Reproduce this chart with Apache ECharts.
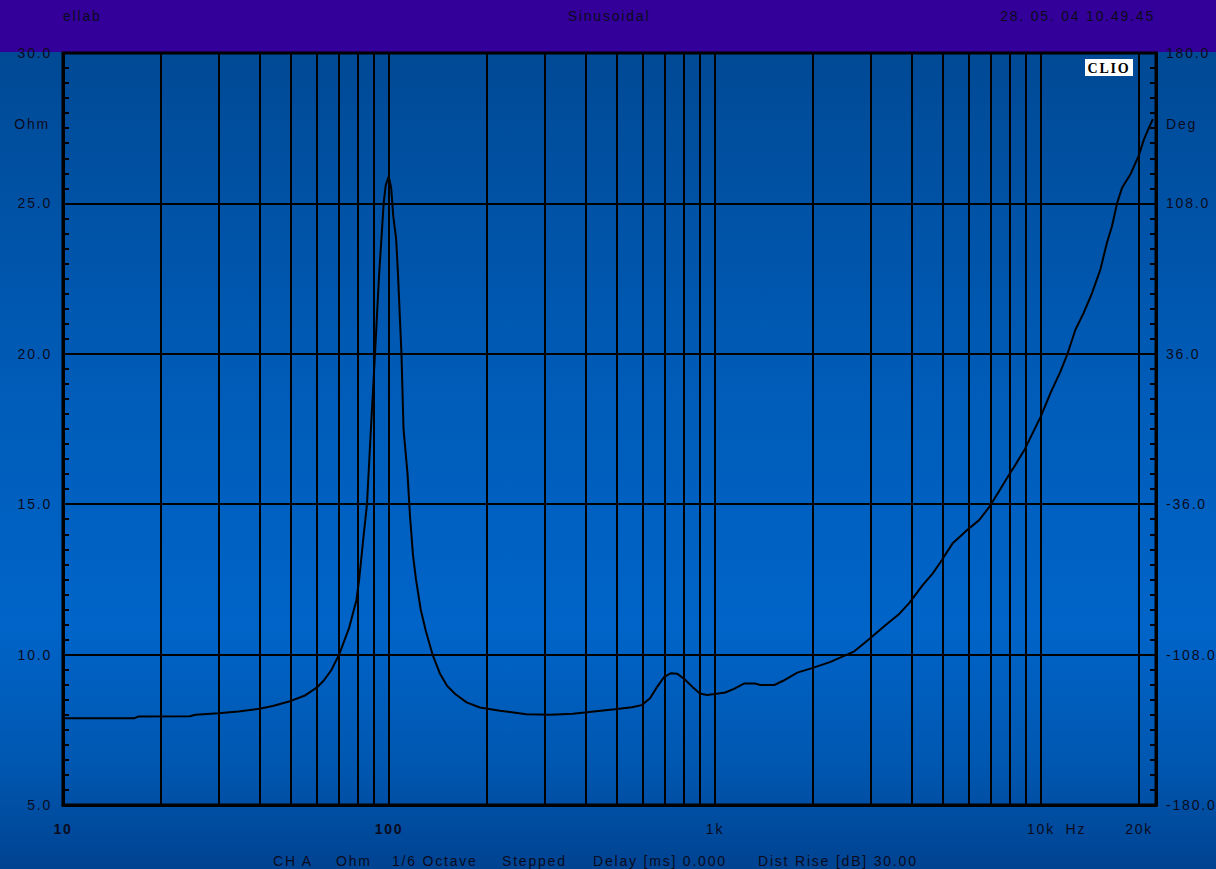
<!DOCTYPE html>
<html>
<head>
<meta charset="utf-8">
<script src="https://cdn.jsdelivr.net/npm/echarts@6/dist/echarts.min.js"></script>
<style>
  html, body { margin: 0; padding: 0; background: #0055aa; }
  #chart { width: 1216px; height: 869px; letter-spacing: 1.8px; }
</style>
</head>
<body>
<div id="chart"></div>
<script>
// Impedance sweep, frequency (Hz) and modulus (Ohm)
const freqHz = [
  10, 16.5, 17, 24.5, 25.5, 30, 34.5, 40, 44, 50, 55, 60, 63, 66.5,
  70.3, 75.5, 79.4, 81.0, 83.3, 85.6, 88.0, 90.6, 93.1, 96.3, 97.7, 99.8,
  101.6, 103, 105.2, 106.6, 108.1, 109.2, 110.8, 114, 116, 118.5, 121, 125.1,
  129.6, 136, 143.4, 150.5, 159.6, 173, 190, 219, 264, 312, 367, 418, 493,
  556, 596, 632, 663, 696, 731, 767, 805, 856, 899, 944, 1000, 1075, 1144,
  1231, 1327, 1377, 1520, 1618, 1789, 1984, 2252, 2675, 2961, 3353, 3680,
  3940, 4330, 4650, 4920, 5350, 5960, 6460, 6940, 7500, 7910, 8270, 8920,
  9980, 10690, 11470, 12030, 12750, 13520, 14340, 15210, 15930, 16510,
  17110, 17730, 18810, 19930, 20690, 21440, 22040
];
const impedanceOhm = [
  7.88, 7.88, 7.94, 7.95, 8.0, 8.05, 8.11, 8.2, 8.29, 8.46, 8.63, 8.9, 9.13, 9.48,
  10.0, 10.9, 11.8, 12.5, 13.8, 15.0, 17.5, 20.0, 22.5, 25.0, 25.6, 25.9,
  25.5, 24.6, 23.8, 22.6, 21.1, 20.0, 17.5, 16.0, 14.6, 13.3, 12.5, 11.5,
  10.8, 10.0, 9.36, 8.97, 8.69, 8.41, 8.24, 8.13, 8.02, 8.0, 8.03, 8.1, 8.18,
  8.25, 8.32, 8.55, 8.91, 9.24, 9.38, 9.36, 9.19, 8.91, 8.71, 8.66, 8.69, 8.74, 8.86,
  9.04, 9.04, 8.99, 8.99, 9.13, 9.4, 9.55, 9.75, 10.11, 10.5, 11.0, 11.36,
  11.71, 12.3, 12.69, 13.08, 13.69, 14.16, 14.47, 14.91, 15.5, 15.91, 16.24, 16.83,
  17.91, 18.69, 19.41, 19.97, 20.8, 21.36, 22.02, 22.8, 23.69, 24.24,
  25.0, 25.52, 25.97, 26.58, 27.13, 27.52, 27.8
];

// Axis ranges and tick values
const freqMin = 10;
const freqMax = 22530;
const ohmRange = [5, 30];
const ohmStep = 5;
const degRange = [-180, 180];
const degStep = 72;
const gridFreqs = [
  10, 20, 30, 40, 50, 60, 70, 80, 90,
  100, 200, 300, 400, 500, 600, 700, 800, 900,
  1000, 2000, 3000, 4000, 5000, 6000, 7000, 8000, 9000,
  10000, 20000
];
const labelFreqs = [10, 100, 1000, 10000, 20000];
const freqLabelText = { 10: '10', 100: '100', 1000: '1k', 10000: '10k', 20000: '20k' };

// Header and footer texts
const headerLeft = 'ellab';
const headerCenter = 'Sinusoidal';
const headerRight = '28. 05. 04 10.49.45';
const footerParts = [
  ['CH A', 273], ['Ohm', 336], ['1/6 Octave', 392], ['Stepped', 502],
  ['Delay [ms] 0.000', 593], ['Dist Rise [dB] 30.00', 758]
];

const FONT = "'Liberation Sans', Arial, sans-serif";
const INK = '#0b0b1c';

const chart = echarts.init(document.getElementById('chart'), null, { renderer: 'svg' });

const graphics = [
  {
    type: 'rect', z: -10, silent: true,
    shape: { x: 0, y: 0, width: 1216, height: 869 },
    style: {
      fill: new echarts.graphic.LinearGradient(0, 0, 0, 1, [
        { offset: 0, color: '#00458f' },
        { offset: 0.07, color: '#004a96' },
        { offset: 0.45, color: '#005cb8' },
        { offset: 0.72, color: '#0064c8' },
        { offset: 0.88, color: '#0057b0' },
        { offset: 1, color: '#004391' }
      ])
    }
  },
  {
    type: 'rect', z: -5, silent: true,
    shape: { x: 0, y: 0, width: 1216, height: 52 },
    style: { fill: '#330099' }
  },
  {
    type: 'text', z: 6, x: 63, y: 16,
    style: { text: headerLeft, fill: INK, font: '14px ' + FONT, align: 'left', verticalAlign: 'middle' }
  },
  {
    type: 'text', z: 6, x: 609, y: 16,
    style: { text: headerCenter, fill: INK, font: '14px ' + FONT, align: 'center', verticalAlign: 'middle' }
  },
  {
    type: 'text', z: 6, x: 1155, y: 16,
    style: { text: headerRight, fill: INK, font: '14px ' + FONT, align: 'right', verticalAlign: 'middle' }
  },
  {
    type: 'group', z: 6, x: 1085, y: 59,
    children: [
      { type: 'rect', shape: { x: 0, y: 0, width: 48, height: 17 }, style: { fill: '#ffffff' } },
      {
        type: 'text', x: 24, y: 9,
        style: { text: 'CLIO', fill: '#000', font: "bold 14px 'Liberation Serif', 'DejaVu Serif', serif", align: 'center', verticalAlign: 'middle' }
      }
    ]
  }
].concat(footerParts.map(([t, x]) => ({
  type: 'text', z: 6, x: x, y: 861,
  style: { text: t, fill: INK, font: '14px ' + FONT, align: 'left', verticalAlign: 'middle' }
})));

function isDecade(v, d) {
  return Math.abs(v - d) / d < 1e-6;
}

const option = {
  animation: false,
  textStyle: { fontFamily: FONT },
  graphic: graphics,
  grid: {
    left: 63, right: 60, top: 53, bottom: 64,
    show: true, borderColor: '#000', borderWidth: 3, backgroundColor: 'transparent'
  },
  xAxis: {
    type: 'log', logBase: 10, min: freqMin, max: freqMax,
    axisLine: { show: true, onZero: false, lineStyle: { color: '#000', width: 3 } },
    axisTick: { show: false, customValues: gridFreqs },
    splitLine: { show: true, lineStyle: { color: '#000', width: 2 } },
    axisLabel: {
      customValues: labelFreqs,
      margin: 17,
      color: INK,
      fontSize: 14,
      fontFamily: FONT,
      formatter: function (v) {
        for (const d of labelFreqs) {
          if (isDecade(v, d)) {
            const t = freqLabelText[d];
            if (d === 10 || d === 100) return '{b|' + t + '}';
            if (d === 10000) return '{s|}{n|' + t + '}{h|Hz}';
            return t;
          }
        }
        return '';
      },
      rich: {
        b: { fontWeight: 'bold', fontSize: 14, color: INK, fontFamily: FONT },
        n: { fontSize: 14, color: INK, fontFamily: FONT },
        s: { width: 34, fontSize: 14 },
        h: { width: 34, align: 'right', fontSize: 14, color: INK, fontFamily: FONT }
      }
    }
  },
  yAxis: [
    {
      type: 'value', position: 'left', min: ohmRange[0], max: ohmRange[1], interval: ohmStep,
      name: 'Ohm', nameLocation: 'end', nameGap: -71,
      nameTextStyle: { color: INK, fontSize: 14, fontFamily: FONT, align: 'right', verticalAlign: 'middle', padding: [0, 13, 0, 0] },
      axisLine: { show: true, onZero: false, lineStyle: { color: '#000', width: 3 } },
      axisTick: { show: false, inside: true },
      minorTick: { show: true, splitNumber: 10, length: 6, lineStyle: { color: '#000', width: 2 } },
      splitLine: { show: true, lineStyle: { color: '#000', width: 2 } },
      axisLabel: {
        margin: 11, color: INK, fontSize: 14, fontFamily: FONT,
        formatter: v => v.toFixed(1)
      }
    },
    {
      type: 'value', position: 'right', min: degRange[0], max: degRange[1], interval: degStep,
      name: 'Deg', nameLocation: 'end', nameGap: -71,
      nameTextStyle: { color: INK, fontSize: 14, fontFamily: FONT, align: 'left', verticalAlign: 'middle', padding: [0, 0, 0, 10] },
      axisLine: { show: true, onZero: false, lineStyle: { color: '#000', width: 3 } },
      axisTick: { show: false, inside: true },
      minorTick: { show: true, splitNumber: 10, length: 6, lineStyle: { color: '#000', width: 2 } },
      splitLine: { show: false },
      axisLabel: {
        margin: 10, color: INK, fontSize: 14, fontFamily: FONT,
        formatter: v => v.toFixed(1)
      }
    }
  ],
  series: [
    {
      name: 'Impedance',
      type: 'line',
      xAxisIndex: 0,
      yAxisIndex: 0,
      data: freqHz.map((f, i) => [f, impedanceOhm[i]]),
      showSymbol: false,
      symbol: 'none',
      lineStyle: { color: '#000', width: 2 },
      z: 3
    }
  ]
};

chart.setOption(option);
</script>
</body>
</html>
